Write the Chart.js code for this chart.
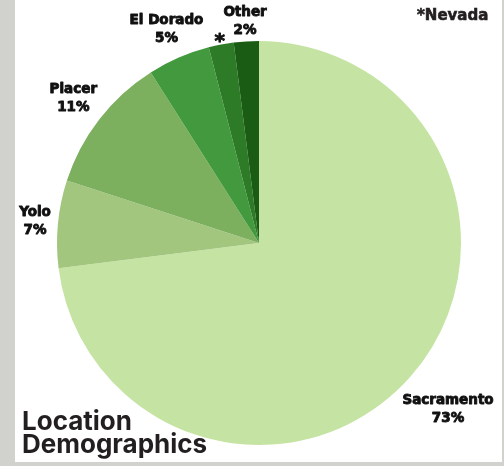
<!DOCTYPE html>
<html>
<head>
<meta charset="utf-8">
<script src="https://cdn.jsdelivr.net/npm/chart.js@4"></script>
<style>
  html, body { margin: 0; padding: 0; }
  body { width: 504px; height: 466px; background: #d1d1cd; position: relative; overflow: hidden; font-family: Inter, sans-serif; }
  #panel { position: absolute; left: 15px; top: 0; width: 487px; height: 462px; background: #fff; }
  #wrap { position: absolute; left: 0; top: 0; width: 504px; height: 466px; }
  #title { position: absolute; left: 22px; top: 409px; font-size: 26px; font-weight: 700; line-height: 23px; color: #231f20; }
  #note { position: absolute; left: 417px; top: 6px; font-family: 'DejaVu Sans', sans-serif; font-size: 15px; font-weight: 700; color: #231f20; -webkit-text-stroke: 0.6px #231f20; }
</style>
</head>
<body>
<div id="panel"></div>
<div id="wrap"><canvas id="pie"></canvas></div>
<div id="title">Location<br>Demographics</div>
<div id="note">*Nevada</div>
<script>
// Anteile nach Landkreis (im Uhrzeigersinn ab 12 Uhr)
const locations = ['Sacramento', 'Yolo', 'Placer', 'El Dorado', 'Nevada', 'Other'];
const shares = [73, 7, 11, 5, 2, 2];
const sliceLabels = [['Sacramento', '73%'], ['Yolo', '7%'], ['Placer', '11%'], ['El Dorado', '5%'], ['*'], ['Other', '2%']];
const sliceColors = ['#c5e3a2', '#a2c67e', '#7caf5e', '#439a3e', '#2d7b27', '#1a5c13'];

// Beschriftungen ausserhalb der Segmente
const outsideLabels = {
    id: 'outsideLabels',
    afterDatasetsDraw(chart, args, opts) {
        const ctx = chart.ctx;
        const arcs = chart.getDatasetMeta(0).data;
        ctx.save();
        ctx.fillStyle = '#111';
        ctx.strokeStyle = '#111';
        ctx.lineWidth = 0.9;
        ctx.lineJoin = 'round';
        ctx.textAlign = 'center';
        ctx.textBaseline = 'middle';
        arcs.forEach((arc, i) => {
            const p = arc.getProps(['x', 'y', 'startAngle', 'endAngle', 'outerRadius'], true);
            const mid = (p.startAngle + p.endAngle) / 2;
            const d = p.outerRadius + opts.offsets[i];
            const cx = p.x + Math.cos(mid) * d;
            const cy = p.y + Math.sin(mid) * d;
            const lines = sliceLabels[i];
            if (lines.length === 1) {
                ctx.font = 'bold 20px "DejaVu Sans"';
                ctx.fillText(lines[0], cx, cy + 5);
                ctx.strokeText(lines[0], cx, cy + 5);
                return;
            }
            ctx.font = 'bold 13.5px "DejaVu Sans"';
            lines.forEach((t, j) => {
                const y = cy + (j - (lines.length - 1) / 2) * 18;
                ctx.fillText(t, cx, y);
                ctx.strokeText(t, cx, y);
            });
        });
        ctx.restore();
    }
};

const ctx = document.getElementById('pie').getContext('2d');
const pieChart = new Chart(ctx, {
    type: 'pie',
    data: {
        labels: locations,
        datasets: [{ data: shares, backgroundColor: sliceColors, borderWidth: 0 }]
    },
    options: {
        responsive: true,
        maintainAspectRatio: false,
        animation: false,
        layout: { padding: { left: 57, right: 43, top: 41, bottom: 21 } },
        plugins: {
            legend: { display: false },
            tooltip: { enabled: false },
            outsideLabels: { offsets: [50, 23, 33, 31, 8, 20] }
        }
    },
    plugins: [outsideLabels]
});
</script>
</body>
</html>
